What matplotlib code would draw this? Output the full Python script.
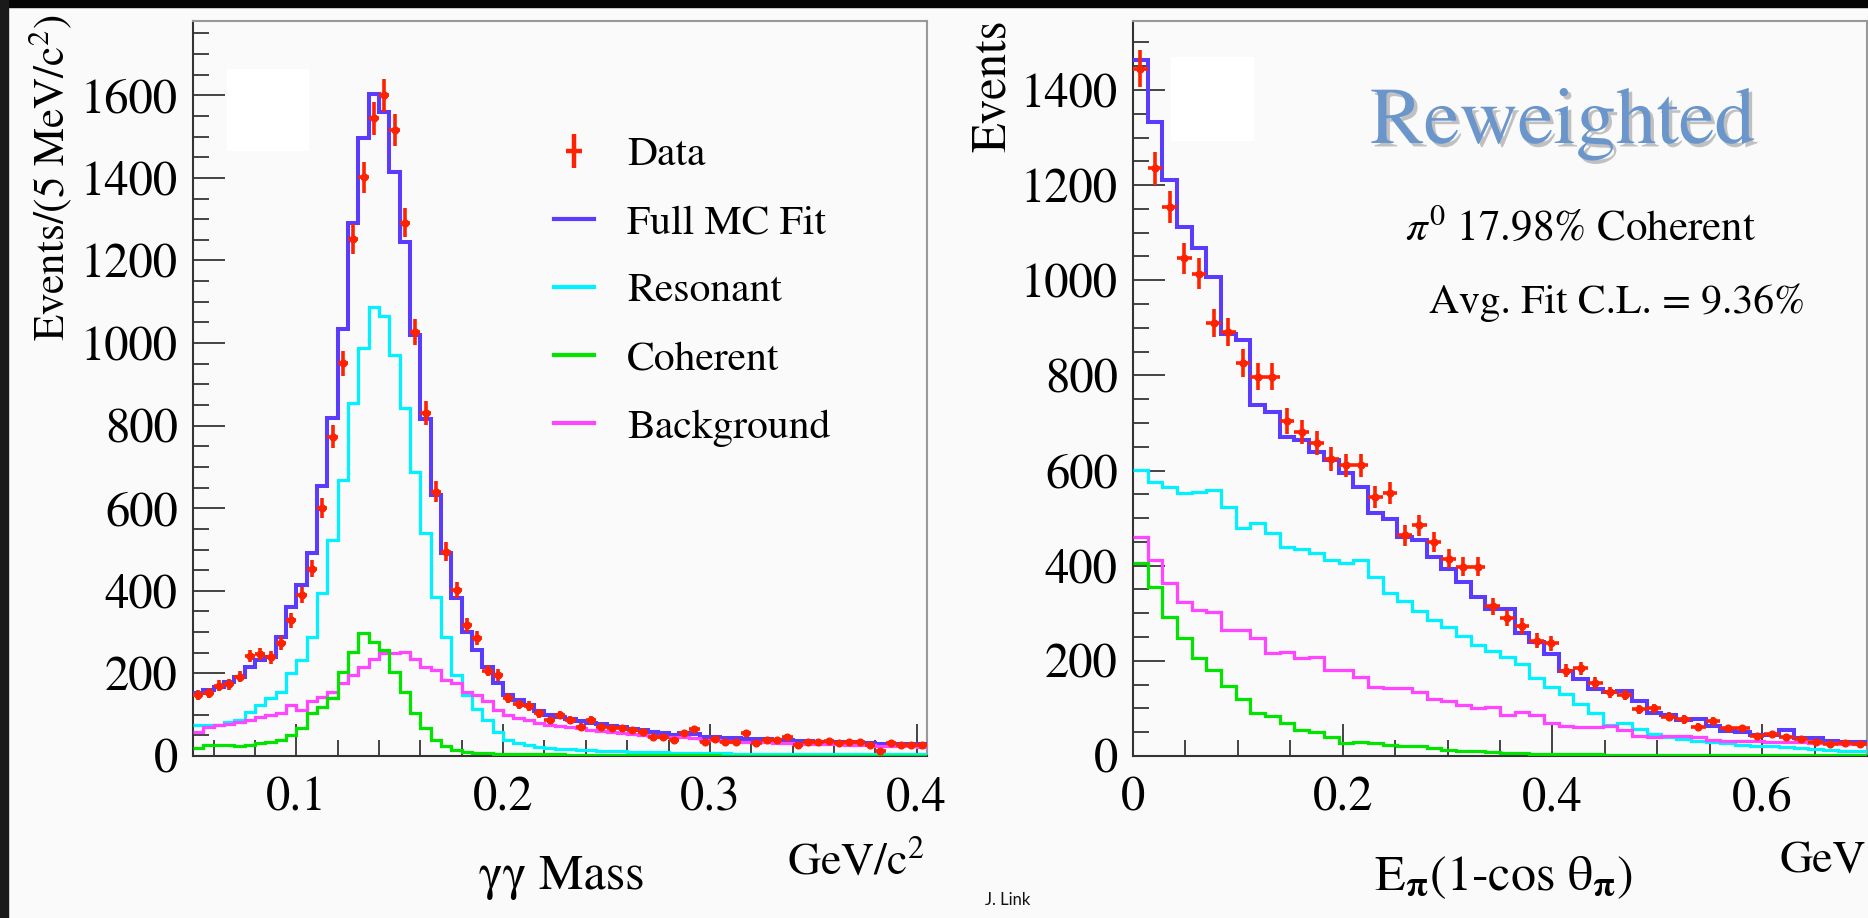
import matplotlib
matplotlib.use("Agg")
import matplotlib.pyplot as plt
import matplotlib.patheffects as pe
import numpy as np
from matplotlib.legend_handler import HandlerTuple
from matplotlib.lines import Line2D
from matplotlib.patches import Rectangle
from matplotlib.ticker import MultipleLocator


OUTPUT_PATH = "out.png"
W, H = 1868, 918

# gamma-gamma mass panel: 5 MeV/c^2 bins starting at 0.050 GeV/c^2
MASS_START = 0.05
MASS_BIN = 0.005
MASS_DATA = [148, 152, 170, 174, 192, 242, 247, 239, 273, 329,
             390, 454, 600, 773, 951, 1252, 1401, 1544, 1600, 1516,
             1292, 1027, 830, 640, 495, 402, 317, 285, 207, 196,
             140, 125, 121, 103, 86, 99, 88, 71, 87, 71,
             67, 67, 63, 59, 47, 47, 39, 55, 65, 35,
             40, 35, 35, 56, 32, 39, 39, 45, 27, 35,
             35, 37, 31, 35, 35, 27, 13, 32, 27, 27,
             27]
MASS_FULL = [152, 160, 168, 180, 192, 216, 232, 240, 289, 362,
             414, 491, 654, 818, 1035, 1290, 1496, 1604, 1560, 1415,
             1245, 1019, 815, 632, 491, 382, 301, 257, 216, 176,
             148, 136, 123, 108, 100, 95, 90, 85, 80, 77,
             73, 70, 66, 63, 58, 55, 52, 55, 53, 47,
             46, 44, 43, 42, 40, 40, 39, 38, 37, 36,
             35, 35, 34, 33, 32, 31, 30, 30, 29, 29,
             28]
MASS_RES = [75, 75, 75, 83, 87, 107, 123, 140, 156, 200,
            232, 289, 394, 523, 668, 854, 987, 1088, 1065, 970,
            842, 688, 539, 386, 289, 196, 148, 115, 87, 59,
            39, 31, 27, 23, 20, 18, 17, 15, 14, 13,
            12, 11, 10, 10, 9, 9, 8, 8, 8, 7,
            7, 7, 6, 6, 6, 6, 6, 6, 6, 6,
            5, 5, 5, 5, 5, 5, 5, 5, 5, 5,
            5]
MASS_COH = [19, 27, 27, 27, 24, 27, 31, 35, 39, 51,
            67, 103, 119, 140, 204, 253, 297, 277, 257, 204,
            156, 103, 67, 39, 24, 15, 10, 8, 7, 6,
            5, 5, 5, 5, 4, 4, 3, 3, 3, 3,
            3, 2, 2, 2, 2, 2, 2, 2, 2, 2,
            2, 1, 1, 1, 1, 1, 1, 1, 1, 1,
            1, 1, 1, 1, 1, 1, 1, 1, 1, 1,
            1]
MASS_BKG = [59, 70, 75, 78, 82, 88, 95, 100, 105, 123,
            111, 132, 144, 156, 176, 196, 216, 236, 249, 249,
            253, 236, 216, 208, 184, 176, 156, 148, 132, 111,
            99, 91, 87, 80, 76, 73, 70, 67, 63, 61,
            58, 56, 53, 51, 49, 47, 45, 46, 44, 39,
            38, 36, 35, 35, 33, 33, 32, 31, 30, 29,
            29, 29, 28, 27, 27, 26, 25, 25, 24, 24,
            23]
MASS_XTICKS = [0.1, 0.2, 0.3, 0.4]
MASS_XLABELS = ["0.1", "0.2", "0.3", "0.4"]

# E_pi(1-cos theta_pi) panel: 0.014 GeV bins starting at 0
EPI_START = 0.0
EPI_BIN = 0.014
EPI_DATA = [1445, 1235, 1154, 1046, 1014, 910, 891, 826, 797, 797,
            704, 681, 658, 625, 611, 611, 545, 553, 464, 485,
            450, 415, 398, 398, 315, 290, 273, 242, 237, 179,
            184, 153, 134, 128, 98, 100, 83, 77, 61, 73,
            58, 58, 42, 46, 39, 35, 30, 25, 27, 25]
EPI_FULL = [1464, 1333, 1210, 1112, 1067, 1006, 888, 874, 737, 723,
            671, 664, 640, 622, 594, 566, 510, 499, 461, 454,
            419, 394, 366, 335, 310, 310, 258, 240, 214, 179,
            162, 140, 134, 137, 115, 90, 87, 76, 77, 64,
            52, 51, 45, 44, 55, 38, 37, 31, 30, 30]
EPI_RES = [601, 576, 566, 552, 555, 559, 524, 480, 489, 468,
           440, 436, 426, 412, 405, 412, 377, 342, 326, 305,
           286, 271, 252, 233, 221, 208, 193, 163, 144, 130,
           109, 90, 65, 69, 56, 46, 40, 35, 31, 29,
           27, 24, 22, 21, 19, 16, 14, 12, 11, 10]
EPI_COH = [406, 356, 293, 247, 205, 181, 148, 120, 90, 85,
           70, 55, 50, 40, 27, 30, 27, 23, 22, 20,
           16, 13, 11, 10, 8, 7, 6, 5, 5, 4,
           4, 4, 3, 3, 3, 3, 2, 2, 2, 2,
           2, 2, 2, 2, 2, 2, 2, 2, 2, 2]
EPI_BKG = [461, 412, 363, 324, 307, 303, 265, 265, 247, 216,
           219, 205, 209, 181, 181, 167, 146, 142, 142, 135,
           120, 116, 108, 100, 102, 86, 92, 86, 70, 64,
           62, 61, 63, 55, 43, 39, 41, 43, 40, 34,
           32, 32, 31, 30, 29, 29, 27, 27, 26, 26]
EPI_XTICKS = [0.0, 0.2, 0.4, 0.6]
EPI_XLABELS = ["0", "0.2", "0.4", "0.6"]

LABELS = ["Data", "Full MC Fit", "Resonant", "Coherent", "Background"]
COLORS = {
    "data": "#ff2200",
    "full": "#5a3cff",
    "res": "#00f2ff",
    "coh": "#00e400",
    "bkg": "#ff45ff",
}
BG = "#fafafa"
SERIF = "STIXGeneral"


def fx(px):
    return px / W


def fy(py):
    return 1 - py / H


def draw_panel(ax, start, width, data, full, res, coh, bkg):
    n = len(data)
    edges = start + width * np.arange(n + 1)
    centers = edges[:-1] + width / 2

    ax.stairs(full, edges, baseline=None, color=COLORS["full"], lw=2.9, zorder=3)
    ax.stairs(res, edges, baseline=None, color=COLORS["res"], lw=2.3, zorder=3)
    ax.stairs(bkg, edges, baseline=None, color=COLORS["bkg"], lw=2.3, zorder=3)
    ax.stairs(coh, edges, baseline=None, color=COLORS["coh"], lw=2.3, zorder=4)

    data = np.array(data, dtype=float)
    ax.errorbar(
        centers, data, xerr=width / 2, yerr=np.sqrt(data),
        fmt="o", ms=4.8, color=COLORS["data"], ecolor=COLORS["data"],
        elinewidth=2.6, capsize=0, zorder=5,
    )


def style_axes(ax, xlim, ylim, xticks, xlabels, xminor):
    ax.set_facecolor(BG)
    ax.set_xlim(*xlim)
    ax.set_ylim(*ylim)
    ax.set_xticks(xticks, xlabels)
    ax.xaxis.set_minor_locator(MultipleLocator(xminor))
    ax.yaxis.set_major_locator(MultipleLocator(200))
    ax.yaxis.set_minor_locator(MultipleLocator(50))
    ax.tick_params(which="both", direction="in", color="#444444", width=1.4,
                   top=False, right=False, labelsize=35)
    ax.tick_params(which="major", length=23)
    ax.tick_params(which="minor", length=11.5)
    ax.tick_params(axis="y", pad=11)
    ax.tick_params(axis="x", pad=15)
    for lab in ax.get_xticklabels() + ax.get_yticklabels():
        lab.set_fontfamily(SERIF)
    ax.spines["left"].set_color("#333333")
    ax.spines["bottom"].set_color("#333333")
    ax.spines["top"].set_color("#999999")
    ax.spines["right"].set_color("#999999")
    for sp in ax.spines.values():
        sp.set_linewidth(1.5)


def main():
    plt.rcParams["font.family"] = SERIF
    plt.rcParams["mathtext.fontset"] = "stix"

    fig = plt.figure(figsize=(W / 100, H / 100), dpi=100, facecolor=BG)

    ax1 = fig.add_axes([fx(193), fy(756), fx(734), 735 / H])
    ax2 = fig.add_axes([fx(1133), fy(756), fx(734), 735 / H])

    draw_panel(ax1, MASS_START, MASS_BIN, MASS_DATA, MASS_FULL, MASS_RES, MASS_COH, MASS_BKG)
    draw_panel(ax2, EPI_START, EPI_BIN, EPI_DATA, EPI_FULL, EPI_RES, EPI_COH, EPI_BKG)

    n_mass = len(MASS_DATA)
    n_epi = len(EPI_DATA)
    style_axes(ax1, (MASS_START, MASS_START + MASS_BIN * n_mass), (0, 1780),
               MASS_XTICKS, MASS_XLABELS, 0.02)
    style_axes(ax2, (EPI_START, EPI_START + EPI_BIN * n_epi), (0, 1545),
               EPI_XTICKS, EPI_XLABELS, 0.05)

    # legend in the mass panel
    data_handle = (
        Line2D([], [], color=COLORS["data"], marker="|", ms=24, mew=3.2, ls="none"),
        Line2D([], [], color=COLORS["data"], marker="_", ms=11, mew=3.2, ls="none"),
    )
    handles = [
        data_handle,
        Line2D([], [], color=COLORS["full"], lw=3),
        Line2D([], [], color=COLORS["res"], lw=3),
        Line2D([], [], color=COLORS["coh"], lw=3),
        Line2D([], [], color=COLORS["bkg"], lw=3),
    ]
    ax1.legend(
        handles, LABELS, handler_map={tuple: HandlerTuple(ndivide=1, pad=0)},
        loc="upper left", bbox_to_anchor=((554 - 193) / 734, (756 - 136) / 735),
        frameon=False, fontsize=30, handlelength=0.95, handletextpad=0.8,
        labelspacing=0.72, borderpad=0, borderaxespad=0,
    )

    # axis titles
    fig.text(fx(50), fy(14), r"Events/(5 MeV/c$^2$)", rotation=90,
             ha="center", va="top", fontsize=31)
    fig.text(fx(993), fy(20), "Events", rotation=90,
             ha="center", va="top", fontsize=35)
    fig.text(fx(562), fy(889), "γγ Mass", ha="center", va="baseline", fontsize=36)
    fig.text(fx(925), fy(873), r"GeV/c$^2$", ha="right", va="baseline", fontsize=33)
    fig.text(fx(1504), fy(890),
             r"E$_{\mathbf{\pi}}$(1-cos $\mathrm{\theta}_{\mathbf{\pi}}$)",
             ha="center", va="baseline", fontsize=36)
    fig.text(fx(1866), fy(872), "GeV", ha="right", va="baseline", fontsize=33)

    # annotations in the right panel
    fig.text(fx(1370), fy(143), "Reweighted", ha="left", va="baseline",
             fontsize=58, color="#6a96cc",
             path_effects=[pe.SimplePatchShadow(offset=(2.5, -2.5),
                                                shadow_rgbFace="#9a9a9a", alpha=0.6),
                           pe.Normal()])
    fig.text(fx(1405), fy(240), r"$\pi^0$ 17.98% Coherent", ha="left",
             va="baseline", fontsize=31)
    fig.text(fx(1429), fy(313), "Avg. Fit C.L. = 9.36%", ha="left",
             va="baseline", fontsize=30)

    fig.text(fx(985), fy(905), "J. Link", ha="left", va="baseline",
             fontsize=12, family="Lato", color="#111111")

    # blank boxes on the slide and the dark screen border
    for x0, y0, x1, y1 in [(227, 69, 308, 150), (1171, 57, 1253, 140)]:
        fig.add_artist(Rectangle((fx(x0), fy(y1)), fx(x1 - x0), (y1 - y0) / H,
                                 transform=fig.transFigure, color="white", zorder=6))
    fig.add_artist(Rectangle((0, fy(7)), 1, 7 / H, transform=fig.transFigure,
                             color="#050505", zorder=7))
    fig.add_artist(Rectangle((0, 0), fx(8), 1, transform=fig.transFigure,
                             color="#1a1a1a", zorder=7))

    fig.savefig(OUTPUT_PATH, dpi=100, facecolor=BG)


if __name__ == "__main__":
    main()
